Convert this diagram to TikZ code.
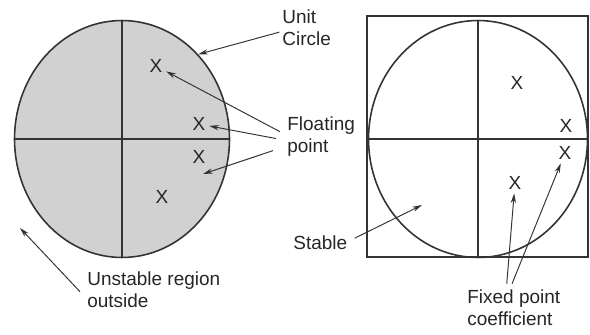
\documentclass[tikz,border=0pt]{standalone}
\usepackage{fontspec}
\setmainfont{Liberation Sans}
\usetikzlibrary{arrows.meta,shapes.geometric}
\begin{document}
\begin{tikzpicture}[x=0.02cm, y=-0.02cm,
    % Estilos
    unitc/.style={ellipse, draw=black!80, line width=0.9pt, inner sep=0pt},
    axis/.style={draw=black!80, line width=0.9pt},
    xmark/.style={font=\fontsize{10.8}{12}\selectfont, text=black!85, inner sep=2pt},
    lbl/.style={font=\fontsize{10.8}{13}\selectfont, text=black!85, align=left, inner sep=0pt, anchor=north west},
    arrow/.style={-{Stealth[length=5.5pt, width=3pt]}, line width=0.55pt, draw=black!80}
]
\useasboundingbox (0,0) rectangle (590,334);

% --- COMA FLOTANTE (izquierda) ---
\node[unitc, fill=black!18, minimum width=4.3cm, minimum height=4.74cm] (flc) at (122,139) {};
\draw[axis] (flc.north) -- (flc.south);
\draw[axis] (flc.west) -- (flc.east);

\node[xmark] (fl1) at (156,66) {X};
\node[xmark] (fl2) at (199,124) {X};
\node[xmark] (fl3) at (199,157) {X};
\node[xmark] (fl4) at (162,197) {X};

% --- COMA FIJA (derecha) ---
\draw[axis] (367,16) rectangle (588,257);
\node[unitc, minimum width=4.38cm, minimum height=4.74cm] (fxc) at (478,139) {};
\draw[axis] (fxc.north) -- (fxc.south);
\draw[axis] (fxc.west) -- (fxc.east);

\node[xmark] (fx1) at (517,83) {X};
\node[xmark] (fx2) at (566,126) {X};
\node[xmark] (fx3) at (565,153) {X};
\node[xmark] (fx4) at (515,183) {X};

% --- ETIQUETAS ---
\node[lbl] (unitlbl) at (282,9) {Unit\\Circle};
\node[lbl] (floatlbl) at (287,116) {Floating\\point};
\node[lbl] (unstlbl) at (87,271) {Unstable region\\outside};
\node[lbl] (stablbl) at (293,235) {Stable};
\node[lbl] (fixlbl) at (467,289) {Fixed point\\coefficient};

\coordinate (flreg) at (203,174);
\coordinate (stabreg) at (422,205);
\coordinate (outreg) at (20,228);

% --- FLECHAS ---
\draw[arrow] ([xshift=-1.5pt,yshift=-2.5pt]unitlbl.west) -- (flc.48);
\draw[arrow] ([xshift=-4pt,yshift=2.8pt]floatlbl.west) -- (fl1);
\draw[arrow] ([xshift=-6.3pt,yshift=-1.1pt]floatlbl.west) -- (fl2);
\draw[arrow] ([xshift=-8pt,yshift=-8pt]floatlbl.west) -- (flreg);
\draw[arrow] ([xshift=-4pt,yshift=-1.1pt]unstlbl.west) -- (outreg);
\draw[arrow] ([xshift=4pt,yshift=2.3pt]stablbl.east) -- (stabreg);
\draw[arrow] ([xshift=-4pt,yshift=3pt]fixlbl.north) -- (fx4);
\draw[arrow] ([xshift=-1pt,yshift=3pt]fixlbl.north) -- (fx3);

\end{tikzpicture}
\end{document}
